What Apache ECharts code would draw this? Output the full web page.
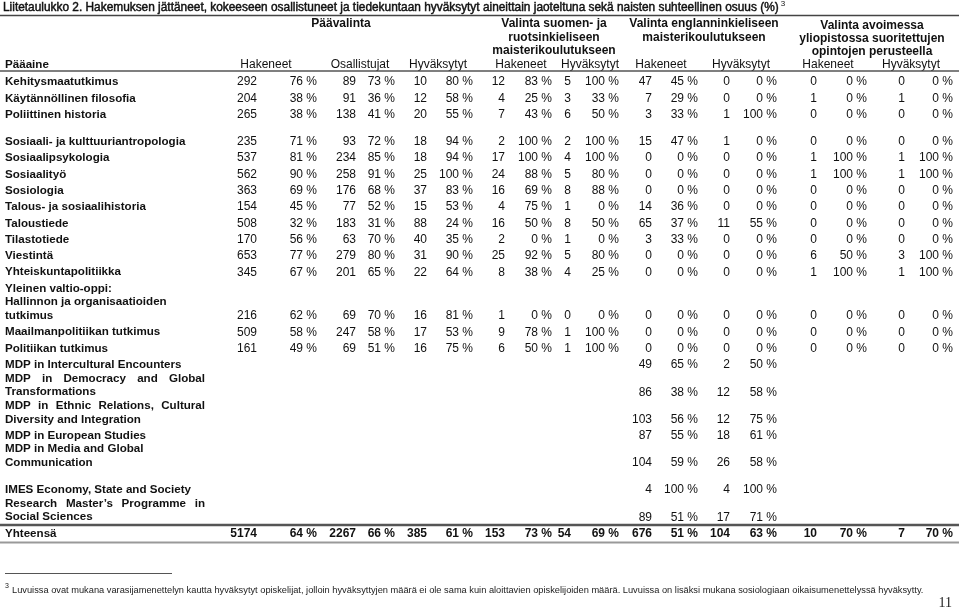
<!DOCTYPE html>
<html><head><meta charset="utf-8">
<script src="https://cdn.jsdelivr.net/npm/echarts@6/dist/echarts.min.js"></script>
<style>html,body{margin:0;padding:0;background:#fff;}#c{width:959px;height:609px;}</style>
</head><body><div id="c"></div>
<script>
// ---------- DATA ----------
const titleText = 'Liitetaulukko 2. Hakemuksen jättäneet, kokeeseen osallistuneet ja tiedekuntaan hyväksytyt aineittain jaoteltuna sekä naisten suhteellinen osuus (%)';
const titleNote = '3';
const groupHeaders = ['Päävalinta', 'Valinta suomen- ja\nruotsinkieliseen\nmaisterikoulutukseen', 'Valinta englanninkieliseen\nmaisterikoulutukseen', 'Valinta avoimessa\nyliopistossa suoritettujen\nopintojen perusteella'];
const firstColHeader = 'Pääaine';
const colHeaders = ['Hakeneet','Osallistujat','Hyväksytyt','Hakeneet','Hyväksytyt','Hakeneet','Hyväksytyt','Hakeneet','Hyväksytyt'];
const categories = [
  'Kehitysmaatutkimus','Käytännöllinen filosofia','Poliittinen historia',
  'Sosiaali- ja kulttuuriantropologia','Sosiaalipsykologia','Sosiaalityö','Sosiologia',
  'Talous- ja sosiaalihistoria','Taloustiede','Tilastotiede','Viestintä','Yhteiskuntapolitiikka',
  'Yleinen valtio-oppi:\nHallinnon ja organisaatioiden\ntutkimus',
  'Maailmanpolitiikan tutkimus','Politiikan tutkimus',
  'MDP in Intercultural Encounters','MDP in Democracy and Global\nTransformations',
  'MDP in Ethnic Relations, Cultural\nDiversity and Integration','MDP in European Studies',
  'MDP in Media and Global\nCommunication',
  'IMES Economy, State and Society','Research Master\u2019s Programme in\nSocial Sciences',
  'Yhteensä'
];
const N = null;
const paaHak     = [292,204,265,235,537,562,363,154,508,170,653,345,216,509,161,N,N,N,N,N,N,N,5174];
const paaHakPct  = [76,38,38,71,81,90,69,45,32,56,77,67,62,58,49,N,N,N,N,N,N,N,64];
const paaOs      = [89,91,138,93,234,258,176,77,183,63,279,201,69,247,69,N,N,N,N,N,N,N,2267];
const paaOsPct   = [73,36,41,72,85,91,68,52,31,70,80,65,70,58,51,N,N,N,N,N,N,N,66];
const paaHyv     = [10,12,20,18,18,25,37,15,88,40,31,22,16,17,16,N,N,N,N,N,N,N,385];
const paaHyvPct  = [80,58,55,94,94,100,83,53,24,35,90,64,81,53,75,N,N,N,N,N,N,N,61];
const suomiHak    = [12,4,7,2,17,24,16,4,16,2,25,8,1,9,6,N,N,N,N,N,N,N,153];
const suomiHakPct = [83,25,43,100,100,88,69,75,50,0,92,38,0,78,50,N,N,N,N,N,N,N,73];
const suomiHyv    = [5,3,6,2,4,5,8,1,8,1,5,4,0,1,1,N,N,N,N,N,N,N,54];
const suomiHyvPct = [100,33,50,100,100,80,88,0,50,0,80,25,0,100,100,N,N,N,N,N,N,N,69];
const engHak     = [47,7,3,15,0,0,0,14,65,3,0,0,0,0,0,49,86,103,87,104,4,89,676];
const engHakPct  = [45,29,33,47,0,0,0,36,37,33,0,0,0,0,0,65,38,56,55,59,100,51,51];
const engHyv     = [0,0,1,1,0,0,0,0,11,0,0,0,0,0,0,2,12,12,18,26,4,17,104];
const engHyvPct  = [0,0,100,0,0,0,0,0,55,0,0,0,0,0,0,50,58,75,61,58,100,71,63];
const avHak      = [0,1,0,0,1,1,0,0,0,0,6,1,0,0,0,N,N,N,N,N,N,N,10];
const avHakPct   = [0,0,0,0,100,100,0,0,0,0,50,100,0,0,0,N,N,N,N,N,N,N,70];
const avHyv      = [0,1,0,0,1,1,0,0,0,0,3,1,0,0,0,N,N,N,N,N,N,N,7];
const avHyvPct   = [0,0,0,0,100,100,0,0,0,0,100,100,0,0,0,N,N,N,N,N,N,N,70];
const footnoteText = 'Luvuissa ovat mukana varasijamenettelyn kautta hyväksytyt opiskelijat, jolloin hyväksyttyjen määrä ei ole sama kuin aloittavien opiskelijoiden määrä. Luvuissa on lisäksi mukana sosiologiaan oikaisumenettelyssä hyväksytty.';
const pageNumber = '11';

// ---------- LAYOUT / STYLE ----------
const valueCols = [paaHak,paaHakPct,paaOs,paaOsPct,paaHyv,paaHyvPct,suomiHak,suomiHakPct,suomiHyv,suomiHyvPct,engHak,engHakPct,engHyv,engHyvPct,avHak,avHakPct,avHyv,avHyvPct];
const colRight = [257,317,356,395,427,473,505,552,571,619,652,698,730,777,817,867,905,953];
const colHeaderX = [266,360,438,521,590,661,741,828,911];
const groupHeaderX = [341,554,704,872];
const groupHeaderY = [24,24,24,25.5];
const headerLineStep = 13.3;
const colHeaderY = 65;
const labelX = 5;
const startY = 82;
const lineStep = 13.6;
const rowGap = [0,16.4,16.4,27,16.3,16.3,16.3,16.3,16.3,16.3,16.3,16.3,16.4,16.4,16.4,16.4,13.6,13.6,16,13.6,27,14,16.4];
const justifyLines = ['MDP in Democracy and Global','MDP in Ethnic Relations, Cultural','Research Master\u2019s Programme in'];
const justifyRight = 205;
const W = 959, H = 609;
const FAM = "'Liberation Sans', Arial, Helvetica, sans-serif";
const boldFont = 'bold 12px ' + FAM;
const labelFont = 'bold 11.6px ' + FAM;
const numFont = '12px ' + FAM;
const totalIndex = categories.length - 1;

const ctx = document.createElement('canvas').getContext('2d');
function measure(t, font){ ctx.font = font; return ctx.measureText(t).width; }

const rowY = [];
(function(){
  let y = startY;
  categories.forEach((c,i)=>{
    const n = c.split('\n').length;
    if (i>0) y += rowGap[i];
    const ys=[y];
    for (let k=1;k<n;k++){ y += lineStep; ys.push(y); }
    rowY.push(ys);
  });
})();

function txt(s, x, y, font, align, fill){
  return {type:'text', style:{text:s, x:x, y:y, font:font, fill:fill||'#111', align:align, verticalAlign:'middle'}};
}

function renderItem(params, api){
  const i = api.value(0);
  const ys = rowY[i];
  const bold = i === totalIndex;
  const children = [];
  categories[i].split('\n').forEach((ln,k)=>{
    const p = api.coord([labelX, ys[k]]);
    if (justifyLines.indexOf(ln) >= 0){
      const words = ln.split(' ');
      const pr = api.coord([justifyRight, ys[k]]);
      const ws = words.map(w=>measure(w, labelFont));
      const total = ws.reduce((a,b)=>a+b,0);
      const gap = (pr[0]-p[0]-total)/(words.length-1);
      let x = p[0];
      words.forEach((w,j)=>{ children.push(txt(w, x, p[1], labelFont, 'left')); x += ws[j]+gap; });
    } else {
      children.push(txt(ln, p[0], p[1], labelFont, 'left'));
    }
  });
  const last = ys[ys.length-1];
  valueCols.forEach((arr,c)=>{
    const v = arr[i];
    if (v === null || v === undefined) return;
    const s = (c % 2 === 1) ? v + ' %' : String(v);
    const p = api.coord([colRight[c], last]);
    children.push(txt(s, p[0], p[1], bold ? boldFont : numFont, 'right'));
  });
  return {type:'group', children:children};
}

// ---------- static graphics (headers, rules, notes) ----------
const titleSize = 12 * 776 / measure(titleText, '12px ' + FAM);
const footSize = 9 * 913 / measure(footnoteText, '9px ' + FAM);
const graphics = [];
function gtext(s, x, y, font, align, fill, extra){
  const st = {text:s, x:x, y:y, font:font, fill:fill||'#111', align:align, verticalAlign:'middle'};
  if (extra) Object.assign(st, extra);
  graphics.push({type:'text', silent:true, style:st});
}
function gline(x1,y1,x2,y2,color,w){
  graphics.push({type:'line', silent:true, shape:{x1:x1,y1:y1,x2:x2,y2:y2}, style:{stroke:color, lineWidth:w}});
}
gtext(titleText, 3, 7.5, titleSize.toFixed(2) + 'px ' + FAM, 'left', '#111', {stroke:'#111', lineWidth:0.45});
gtext(titleNote, 3 + measure(titleText, titleSize.toFixed(2) + 'px ' + FAM) + 2, 3.5, '8px ' + FAM, 'left', '#111');
gline(0, 15.5, W, 15.5, '#444', 1.4);
groupHeaders.forEach((g,gi)=>{
  g.split('\n').forEach((ln,k)=>{
    gtext(ln, groupHeaderX[gi], groupHeaderY[gi] + k*headerLineStep, boldFont, 'center');
  });
});
gtext(firstColHeader, labelX, colHeaderY, labelFont, 'left');
colHeaders.forEach((h,k)=>gtext(h, colHeaderX[k], colHeaderY, numFont, 'center'));
gline(0, 71, W, 71, '#555', 1.5);
gline(0, 525, W, 525, '#555', 2.5);
gline(0, 542.5, W, 542.5, '#999', 2);
gline(5, 573.5, 172, 573.5, '#555', 1);
gtext('3', 5, 586, '7px ' + FAM, 'left', '#222');
gtext(footnoteText, 12, 590, footSize.toFixed(2) + 'px ' + FAM, 'left', '#222');
gtext(pageNumber, 952, 603, "14px 'Liberation Serif', 'Times New Roman', serif", 'right', '#222');

const chart = echarts.init(document.getElementById('c'), null, {renderer:'canvas'});
chart.setOption({
  animation:false,
  backgroundColor:'#ffffff',
  grid:{left:0, right:0, top:0, bottom:0, containLabel:false},
  xAxis:{type:'value', min:0, max:W, show:false},
  yAxis:{type:'value', min:0, max:H, inverse:true, show:false},
  series:[{
    type:'custom',
    coordinateSystem:'cartesian2d',
    renderItem:renderItem,
    data:categories.map((c,i)=>[i, 0]),
    silent:true,
    clip:false
  }],
  graphic:graphics
});
</script></body></html>
